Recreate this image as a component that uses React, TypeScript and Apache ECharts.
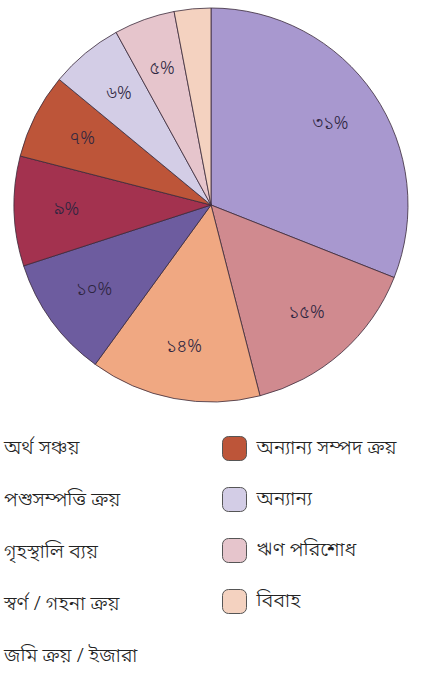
import React, { useEffect, useRef } from "react";
import * as echarts from "echarts";

const categories = [
  "অর্থ সঞ্চয়",
  "পশুসম্পত্তি ক্রয়",
  "গৃহস্থালি ব্যয়",
  "স্বর্ণ / গহনা ক্রয়",
  "জমি ক্রয় / ইজারা",
  "অন্যান্য সম্পদ ক্রয়",
  "অন্যান্য",
  "ঋণ পরিশোধ",
  "বিবাহ",
];
const values = [31, 15, 14, 10, 9, 7, 6, 5, 3];
const labels = ["৩১%", "১৫%", "১৪%", "১০%", "৯%", "৭%", "৬%", "৫%", ""];
const colors = [
  "#a898cf",
  "#d08a8f",
  "#f0a882",
  "#6d5c9f",
  "#a3324f",
  "#bd5539",
  "#d3cde6",
  "#e6c5cc",
  "#f4d2c0",
];

const FONT = "'Noto Sans Bengali', 'Lohit Bengali', 'FreeSans', 'Noto Sans', sans-serif";

export default function App() {
  const ref = useRef<HTMLDivElement>(null);
  useEffect(() => {
    document.body.style.margin = "0";
    const chart = echarts.init(ref.current!, undefined, { renderer: "svg" });
    const data = categories.map((name, i) => ({
      name,
      value: values[i],
      itemStyle: { color: colors[i] },
    }));
    const legendText = {
      fontFamily: FONT,
      fontSize: 20,
      fontWeight: 300,
      color: "#222",
      lineHeight: 22,
    };
    chart.setOption({
      animation: false,
      backgroundColor: "#ffffff",
      legend: [
        {
          orient: "vertical",
          left: -26,
          top: 436,
          height: 300,
          padding: 0,
          icon: "rect",
          itemWidth: 24,
          itemHeight: 24,
          itemGap: 26,
          selectedMode: false,
          data: categories.slice(0, 5),
          itemStyle: { opacity: 0 },
          textStyle: legendText,
        },
        {
          orient: "vertical",
          left: 222,
          top: 436,
          height: 300,
          padding: 0,
          itemWidth: 24,
          itemHeight: 24,
          itemGap: 26,
          selectedMode: false,
          data: categories.slice(5),
          itemStyle: { borderColor: "#555", borderWidth: 1 },
          textStyle: { ...legendText, padding: [0, 0, 0, 5] },
        },
      ],
      series: [
        {
          type: "pie",
          center: [211, 205],
          radius: 197,
          startAngle: 90,
          clockwise: true,
          silent: true,
          label: { show: false },
          labelLine: { show: false },
          itemStyle: { borderColor: "#3a2a3a", borderWidth: 0.8 },
          data,
        },
        {
          type: "pie",
          center: [211, 205],
          radius: [86, 197],
          startAngle: 90,
          clockwise: true,
          silent: true,
          itemStyle: { color: "rgba(0,0,0,0)", borderWidth: 0 },
          label: {
            show: true,
            position: "inside",
            fontFamily: FONT,
            fontSize: 18,
            fontWeight: 300,
            color: "#2d2540",
            formatter: (p: any) => labels[p.dataIndex],
          },
          labelLine: { show: false },
          data: categories.map((name, i) => ({ name: name + " ", value: values[i] })),
        },
      ],
    });
    return () => chart.dispose();
  }, []);
  return <div ref={ref} style={{ width: 436, height: 676 }} />;
}
